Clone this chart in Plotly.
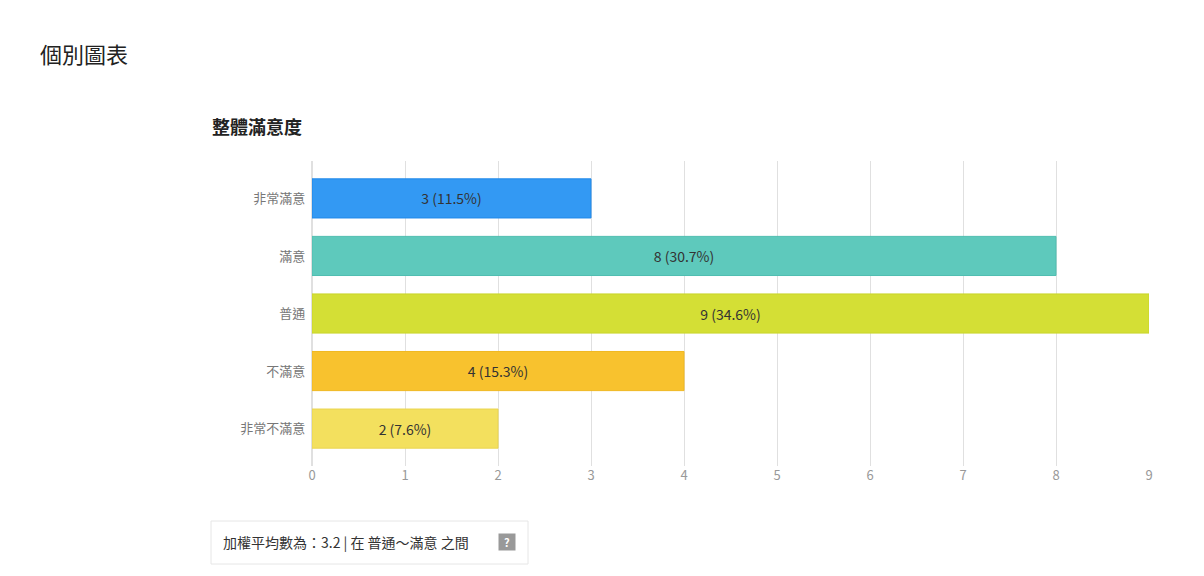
import plotly.graph_objects as go

categories = ["非常滿意", "滿意", "普通", "不滿意", "非常不滿意"]
counts = [3, 8, 9, 4, 2]
pct_labels = ["11.5%", "30.7%", "34.6%", "15.3%", "7.6%"]
colors = ["#3399f3", "#5ec9bc", "#d4df35", "#f8c22e", "#f3e05e"]
borders = ["#1f88ea", "#4fbdb0", "#c9d52a", "#f0b820", "#ead550"]
tick_vals = list(range(10))

fig = go.Figure(go.Bar(
    y=categories, x=counts, orientation="h",
    marker=dict(color=colors, line=dict(color=borders, width=1)),
    width=0.68,
    text=[f"{c} ({p})" for c, p in zip(counts, pct_labels)],
    textposition="inside", insidetextanchor="middle",
    textfont=dict(color="#333333", size=14, family="Noto Sans CJK TC"),
    hoverinfo="skip",
))
font = "Noto Sans CJK TC"
fig.update_layout(
    width=1204, height=576, plot_bgcolor="white", paper_bgcolor="white",
    margin=dict(l=304, r=63, t=153, b=118),
    showlegend=False,
    font=dict(family=font),
    xaxis=dict(range=[0, 9], tickvals=tick_vals, showgrid=True, gridcolor="#e0e0e0",
               zeroline=True, zerolinecolor="#e0e0e0", tickfont=dict(size=13, color="#999999"),
               ticks="", ticklen=0),
    yaxis=dict(autorange=False, range=[4.65, -0.65], categoryorder="array", categoryarray=categories,
               tickfont=dict(size=13, color="#777777"), ticks="", ticksuffix="  ", showgrid=False),
)
fig.add_annotation(xref="paper", yref="paper", x=-1, y=1, text="", showarrow=False)
fig.add_annotation(text="個別圖表", xref="paper", yref="paper", xanchor="left", yanchor="middle",
                   x=(30-304)/837, y=(576-118-45)/305, showarrow=False,
                   font=dict(size=22, color="#222222", family=font))
fig.add_annotation(text="<b>整體滿意度</b>", xref="paper", yref="paper", xanchor="left", yanchor="middle",
                   x=(202-304)/837, y=(576-118-118)/305, showarrow=False,
                   font=dict(size=18, color="#222222", family=font))
fig.add_shape(type="rect", xref="paper", yref="paper",
              x0=(203-304)/837, x1=(520-304)/837, y0=(576-118-556)/305, y1=(576-118-513)/305,
              line=dict(color="#e6e6e6", width=1), fillcolor="white")
fig.add_annotation(text="加權平均數為：3.2 | 在 普通～滿意 之間", xref="paper", yref="paper",
                   xanchor="left", yanchor="middle", x=(213-304)/837, y=(576-118-534)/305,
                   showarrow=False, font=dict(size=14, color="#333333", family=font))
fig.add_annotation(text="<b>?</b>", xref="paper", yref="paper", xanchor="center", yanchor="middle",
                   x=(499-304)/837, y=(576-118-534)/305, showarrow=False, bgcolor="#999999",
                   width=14, height=14, borderpad=1,
                   font=dict(size=11, color="white", family=font))
fig.write_html("out.html")
